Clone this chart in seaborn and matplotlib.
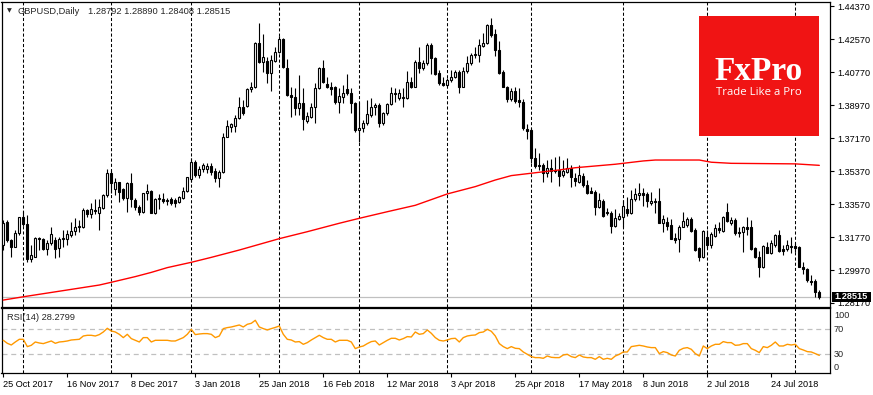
import matplotlib
matplotlib.use('Agg')
import matplotlib.pyplot as plt
from matplotlib.patches import Rectangle
import seaborn as sns
import numpy as np
import pandas as pd

# ---------------- data ----------------
open_ = [
1.3133, 1.3261, 1.3161, 1.3124, 1.3201, 1.3284, 1.3246, 1.3055, 1.3070, 1.3170,
1.3166, 1.3110, 1.3142, 1.3161, 1.3115, 1.3166, 1.3168, 1.3190, 1.3211, 1.3230,
1.3233, 1.3324, 1.3302, 1.3322, 1.3310, 1.3333, 1.3406, 1.3524, 1.3437, 1.3475,
1.3439, 1.3388, 1.3470, 1.3379, 1.3342, 1.3315, 1.3415, 1.3428, 1.3306, 1.3382,
1.3382, 1.3371, 1.3386, 1.3379, 1.3368, 1.3388, 1.3430, 1.3491, 1.3584, 1.3515,
1.3546, 1.3546, 1.3565, 1.3537, 1.3501, 1.3534, 1.3725, 1.3779, 1.3785, 1.3825,
1.3888, 1.3892, 1.3983, 1.3994, 1.4234, 1.4130, 1.4137, 1.4070, 1.4139, 1.4185,
1.4256, 1.4097, 1.3950, 1.3939, 1.3879, 1.3906, 1.3812, 1.3834, 1.3885, 1.3988,
1.4097, 1.4010, 1.3994, 1.3994, 1.3915, 1.3943, 1.3983, 1.3961, 1.3906, 1.3761,
1.3770, 1.3797, 1.3843, 1.3885, 1.3896, 1.3801, 1.3852, 1.3903, 1.3961, 1.3934,
1.3934, 1.3934, 1.4021, 1.3997, 1.4134, 1.4097, 1.4125, 1.4225, 1.4152, 1.4070,
1.4015, 1.4006, 1.4034, 1.4048, 1.4075, 1.3997, 1.4085, 1.4125, 1.4170, 1.4170,
1.4219, 1.4234, 1.4334, 1.4285, 1.4197, 1.4079, 1.3994, 1.3928, 1.3976, 1.3925,
1.3914, 1.3768, 1.3761, 1.3606, 1.3570, 1.3570, 1.3528, 1.3552, 1.3543, 1.3543,
1.3516, 1.3534, 1.3552, 1.3497, 1.3479, 1.3510, 1.3461, 1.3430, 1.3425, 1.3339,
1.3376, 1.3316, 1.3306, 1.3237, 1.3277, 1.3288, 1.3330, 1.3310, 1.3383, 1.3405,
1.3419, 1.3412, 1.3365, 1.3376, 1.3374, 1.3256, 1.3261, 1.3241, 1.3172, 1.3165,
1.3234, 1.3243, 1.3277, 1.3215, 1.3115, 1.3070, 1.3175, 1.3134, 1.3183, 1.3226,
1.3212, 1.3315, 1.3252, 1.3270, 1.3206, 1.3205, 1.3230, 1.3230, 1.3115, 1.3067,
1.3012, 1.3125, 1.3092, 1.3134, 1.3188, 1.3110, 1.3110, 1.3130, 1.3128, 1.3125,
1.3016, 1.3001, 1.2939, 1.2939, 1.28792]

high_ = [
1.3270, 1.3270, 1.3164, 1.3215, 1.3288, 1.3319, 1.3297, 1.3133, 1.3175, 1.3175,
1.3170, 1.3161, 1.3230, 1.3179, 1.3179, 1.3215, 1.3215, 1.3261, 1.3279, 1.3270,
1.3333, 1.3330, 1.3361, 1.3384, 1.3382, 1.3410, 1.3548, 1.3542, 1.3497, 1.3479,
1.3442, 1.3479, 1.3524, 1.3388, 1.3351, 1.3419, 1.3466, 1.3433, 1.3388, 1.3411,
1.3415, 1.3388, 1.3397, 1.3388, 1.3400, 1.3451, 1.3506, 1.3606, 1.3597, 1.3564,
1.3579, 1.3583, 1.3579, 1.3552, 1.3543, 1.3743, 1.3815, 1.3801, 1.3843, 1.3939,
1.3925, 1.3988, 1.4025, 1.4243, 1.4343, 1.4285, 1.4161, 1.4170, 1.4216, 1.4274,
1.4261, 1.4146, 1.3994, 1.3988, 1.4061, 1.3988, 1.3861, 1.3906, 1.4015, 1.4106,
1.4143, 1.4052, 1.4025, 1.4001, 1.3988, 1.4006, 1.4066, 1.3988, 1.3915, 1.3915,
1.3815, 1.3925, 1.3934, 1.3910, 1.3906, 1.3861, 1.3906, 1.3994, 1.3988, 1.3983,
1.3988, 1.4085, 1.4052, 1.4143, 1.4216, 1.4143, 1.4237, 1.4237, 1.4161, 1.4088,
1.4052, 1.4043, 1.4088, 1.4088, 1.4088, 1.4106, 1.4165, 1.4183, 1.4216, 1.4256,
1.4292, 1.4339, 1.4370, 1.4310, 1.4248, 1.4088, 1.4001, 1.3988, 1.3994, 1.3988,
1.3928, 1.3794, 1.3770, 1.3661, 1.3634, 1.3579, 1.3597, 1.3601, 1.3616, 1.3619,
1.3597, 1.3606, 1.3570, 1.3525, 1.3570, 1.3525, 1.3488, 1.3452, 1.3434, 1.3416,
1.3383, 1.3334, 1.3321, 1.3328, 1.3306, 1.3379, 1.3397, 1.3434, 1.3443, 1.3474,
1.3443, 1.3425, 1.3425, 1.3388, 1.3443, 1.3297, 1.3285, 1.3274, 1.3197, 1.3243,
1.3315, 1.3288, 1.3288, 1.3225, 1.3125, 1.3215, 1.3215, 1.3206, 1.3246, 1.3261,
1.3292, 1.3365, 1.3288, 1.3279, 1.3234, 1.3237, 1.3285, 1.3270, 1.3121, 1.3103,
1.3134, 1.3152, 1.3161, 1.3194, 1.3215, 1.3134, 1.3161, 1.3175, 1.3143, 1.3128,
1.3043, 1.3006, 1.2970, 1.2946, 1.28890]

low_ = [
1.3106, 1.3152, 1.3070, 1.3121, 1.3188, 1.3237, 1.3042, 1.3042, 1.3066, 1.3106,
1.3106, 1.3079, 1.3133, 1.3060, 1.3070, 1.3124, 1.3133, 1.3179, 1.3188, 1.3206,
1.3224, 1.3284, 1.3279, 1.3302, 1.3215, 1.3330, 1.3397, 1.3415, 1.3406, 1.3370,
1.3379, 1.3315, 1.3342, 1.3324, 1.3297, 1.3310, 1.3379, 1.3306, 1.3302, 1.3328,
1.3361, 1.3351, 1.3351, 1.3342, 1.3361, 1.3382, 1.3424, 1.3479, 1.3506, 1.3497,
1.3533, 1.3525, 1.3516, 1.3479, 1.3452, 1.3528, 1.3721, 1.3752, 1.3752, 1.3819,
1.3843, 1.3888, 1.3970, 1.3988, 1.4125, 1.4079, 1.4019, 1.3976, 1.4134, 1.4179,
1.4097, 1.3946, 1.3834, 1.3843, 1.3843, 1.3761, 1.3797, 1.3825, 1.3797, 1.3983,
1.4019, 1.3988, 1.3952, 1.3903, 1.3855, 1.3906, 1.3952, 1.3852, 1.3752, 1.3697,
1.3752, 1.3788, 1.3834, 1.3843, 1.3779, 1.3788, 1.3843, 1.3897, 1.3915, 1.3925,
1.3885, 1.3928, 1.3988, 1.3994, 1.4070, 1.4088, 1.4115, 1.4066, 1.4061, 1.4006,
1.4001, 1.4001, 1.4025, 1.4043, 1.3961, 1.3994, 1.4074, 1.4115, 1.4152, 1.4134,
1.4216, 1.4230, 1.4270, 1.4165, 1.4066, 1.3994, 1.3915, 1.3921, 1.3910, 1.3888,
1.3761, 1.3710, 1.3583, 1.3552, 1.3543, 1.3479, 1.3506, 1.3479, 1.3525, 1.3456,
1.3506, 1.3525, 1.3448, 1.3456, 1.3474, 1.3452, 1.3412, 1.3416, 1.3297, 1.3334,
1.3288, 1.3297, 1.3201, 1.3234, 1.3270, 1.3234, 1.3292, 1.3303, 1.3376, 1.3379,
1.3346, 1.3339, 1.3352, 1.3306, 1.3252, 1.3206, 1.3215, 1.3165, 1.3143, 1.3097,
1.3230, 1.3234, 1.3206, 1.3103, 1.3048, 1.3065, 1.3115, 1.3115, 1.3175, 1.3201,
1.3206, 1.3261, 1.3243, 1.3188, 1.3179, 1.3097, 1.3188, 1.3106, 1.3061, 1.2957,
1.3006, 1.3088, 1.3085, 1.3125, 1.3097, 1.3079, 1.3103, 1.3088, 1.3097, 1.3012,
1.2976, 1.2934, 1.2915, 1.2852, 1.28408]

close_ = [
1.3255, 1.3161, 1.3124, 1.3201, 1.3284, 1.3248, 1.3055, 1.3079, 1.3170, 1.3164,
1.3111, 1.3142, 1.3191, 1.3113, 1.3166, 1.3171, 1.3191, 1.3210, 1.3230, 1.3237,
1.3324, 1.3302, 1.3330, 1.3317, 1.3339, 1.3406, 1.3524, 1.3470, 1.3475, 1.3424,
1.3388, 1.3470, 1.3384, 1.3342, 1.3315, 1.3415, 1.3428, 1.3310, 1.3382, 1.3388,
1.3371, 1.3380, 1.3361, 1.3364, 1.3393, 1.3430, 1.3502, 1.3584, 1.3515, 1.3546,
1.3570, 1.3565, 1.3534, 1.3501, 1.3534, 1.3721, 1.3785, 1.3794, 1.3825, 1.3888,
1.3852, 1.3983, 1.3994, 1.4234, 1.4130, 1.4157, 1.4070, 1.4143, 1.4185, 1.4256,
1.4106, 1.3952, 1.3939, 1.3879, 1.3906, 1.3819, 1.3837, 1.3885, 1.3988, 1.4097,
1.4025, 1.3994, 1.3983, 1.3915, 1.3946, 1.3961, 1.3961, 1.3906, 1.3761, 1.3774,
1.3797, 1.3848, 1.3885, 1.3896, 1.3801, 1.3852, 1.3903, 1.3961, 1.3955, 1.3961,
1.3943, 1.4021, 1.3997, 1.4134, 1.4097, 1.4125, 1.4225, 1.4152, 1.4066, 1.4015,
1.4006, 1.4034, 1.4048, 1.4075, 1.3997, 1.4085, 1.4125, 1.4170, 1.4174, 1.4225,
1.4234, 1.4334, 1.4279, 1.4197, 1.4074, 1.3997, 1.3928, 1.3976, 1.3921, 1.3914,
1.3774, 1.3757, 1.3606, 1.3565, 1.3565, 1.3528, 1.3552, 1.3539, 1.3537, 1.3510,
1.3539, 1.3552, 1.3503, 1.3485, 1.3516, 1.3461, 1.3416, 1.3419, 1.3343, 1.3379,
1.3292, 1.3306, 1.3237, 1.3279, 1.3292, 1.3346, 1.3310, 1.3385, 1.3410, 1.3419,
1.3405, 1.3376, 1.3376, 1.3368, 1.3256, 1.3274, 1.3239, 1.3168, 1.3161, 1.3230,
1.3266, 1.3277, 1.3212, 1.3106, 1.3070, 1.3212, 1.3134, 1.3194, 1.3225, 1.3215,
1.3285, 1.3266, 1.3270, 1.3201, 1.3201, 1.3234, 1.3223, 1.3110, 1.3067, 1.3012,
1.3128, 1.3092, 1.3143, 1.3188, 1.3103, 1.3103, 1.3132, 1.3125, 1.3115, 1.3016,
1.3001, 1.2943, 1.2932, 1.2879, 1.28515]

# moving average (red line), read at selected bars
ma_bar = [0, 5, 16, 24, 27, 33, 37, 41, 47, 52, 59, 69, 76, 84, 89, 96, 103, 111,
          118, 123, 127, 132, 139, 143, 153, 160, 163, 174, 177, 182, 198, 204]
ma_val = [1.2833, 1.2851, 1.2888, 1.2915, 1.2930, 1.2961, 1.2984, 1.3010, 1.3039,
          1.3066, 1.3106, 1.3168, 1.3206, 1.3252, 1.3279, 1.3315, 1.3350, 1.3412,
          1.3452, 1.3488, 1.3512, 1.3525, 1.3543, 1.3555, 1.3574, 1.3592, 1.3597,
          1.3597, 1.3585, 1.3579, 1.3576, 1.3568]

rsi = [
52.4, 47.6, 44.9, 49.7, 54.0, 54.0, 42.3, 44.4, 49.7, 48.1,
47.1, 49.2, 51.3, 47.6, 49.7, 50.3, 51.3, 52.9, 53.5, 54.0,
59.3, 60.4, 60.4, 59.3, 61.5, 65.7, 71.6, 67.3, 65.7, 62.0,
56.7, 62.0, 55.1, 52.4, 49.7, 56.7, 56.7, 49.7, 52.4, 52.4,
52.4, 52.4, 51.3, 51.3, 54.0, 56.7, 62.0, 70.0, 61.5, 62.5,
63.1, 63.1, 62.0, 56.7, 59.3, 71.1, 72.7, 73.7, 75.3, 76.9,
73.7, 78.0, 79.6, 84.4, 73.7, 71.1, 68.9, 71.1, 73.0, 75.3,
62.0, 54.0, 52.9, 49.7, 50.3, 46.0, 48.7, 52.9, 56.7, 60.4,
56.7, 54.0, 54.0, 49.7, 52.4, 52.4, 52.4, 49.7, 39.1, 41.7,
43.3, 47.1, 50.3, 51.3, 44.9, 48.7, 52.4, 55.6, 55.6, 52.9,
55.1, 58.3, 57.7, 65.7, 62.0, 63.1, 68.9, 63.6, 56.7, 52.4,
51.3, 52.9, 55.1, 55.6, 49.7, 56.7, 59.3, 60.4, 60.9, 64.7,
65.7, 70.0, 66.8, 59.3, 47.1, 42.3, 39.1, 42.3, 39.6, 39.1,
33.7, 30.0, 26.3, 24.7, 24.7, 23.6, 27.3, 25.2, 24.7, 24.7,
28.9, 30.0, 26.3, 24.7, 28.9, 25.7, 24.7, 24.7, 22.0, 26.3,
22.0, 23.6, 22.0, 27.3, 30.0, 33.7, 33.7, 42.3, 43.3, 44.4,
43.3, 41.7, 40.7, 40.7, 31.1, 34.3, 32.7, 28.9, 27.3, 36.4,
39.6, 40.7, 38.0, 31.1, 27.3, 43.3, 39.1, 43.3, 46.0, 46.0,
50.3, 48.7, 48.7, 44.4, 44.9, 47.1, 47.1, 39.1, 36.4, 32.7,
42.3, 40.7, 44.4, 49.7, 43.3, 43.3, 46.0, 44.9, 46.0, 39.1,
36.9, 34.3, 33.7, 31.1, 28.3]

month_start_bar = [5, 27, 47, 69, 89, 111, 132, 155, 176, 198]
date_bar = [0, 16, 32, 48, 64, 80, 96, 112, 128, 144, 160, 176, 192]
date_lbl = ['25 Oct 2017', '16 Nov 2017', '8 Dec 2017', '3 Jan 2018', '25 Jan 2018',
            '16 Feb 2018', '12 Mar 2018', '3 Apr 2018', '25 Apr 2018', '17 May 2018',
            '8 Jun 2018', '2 Jul 2018', '24 Jul 2018']
price_ticks = [1.28170, 1.29970, 1.31770, 1.33570, 1.35370, 1.37170, 1.38970,
               1.40770, 1.42570, 1.44370]
rsi_levels = [70, 30]
last_price = 1.28515

# ---------------- figure ----------------
sns.set_style('white')
plt.rcParams['font.family'] = ['Liberation Sans', 'DejaVu Sans']
FS = 6.6

W, H = 873, 395
fig = plt.figure(figsize=(W / 100, H / 100), dpi=100)

def rect(x0, y0, x1, y1):
    return [x0 / W, 1 - y1 / H, (x1 - x0) / W, (y1 - y0) / H]

ax = fig.add_axes(rect(1.5, 2, 829.5, 306.5))
axr = fig.add_axes(rect(1.5, 308.3, 829.5, 373.3))

df = pd.DataFrame({'o': open_, 'h': high_, 'l': low_, 'c': close_})
df['i'] = np.arange(len(df))
up = df['c'] >= df['o']
bot = np.minimum(df['o'], df['c'])
hgt = (df['c'] - df['o']).abs()

ax.axhline(last_price, color='#c0c0c0', lw=0.9, zorder=0.5)
for b in month_start_bar:
    for a in (ax, axr):
        a.axvline(b, color='black', lw=0.75, ls=(0, (3, 2)), zorder=1)

ax.vlines(df['i'], df['l'], df['h'], color='black', lw=0.8, zorder=2)
ax.bar(df['i'][up], hgt[up], bottom=bot[up], width=0.5, facecolor='white',
       edgecolor='black', lw=0.8, zorder=3)
ax.bar(df['i'][~up], hgt[~up], bottom=bot[~up], width=0.5, facecolor='black',
       edgecolor='black', lw=0.8, zorder=3)

sns.lineplot(x=ma_bar, y=ma_val, ax=ax, color='#ff0000', lw=1.0, zorder=4,
             estimator=None, legend=False)

ax.set_xlim(-0.45, 206.55)
ax.set_ylim(1.27979, 1.44591)
ax.set_xticks([])
ax.yaxis.tick_right()
ax.set_yticks(price_ticks)
ax.set_yticklabels([f'{v:.5f}' for v in price_ticks])
ax.tick_params(axis='y', right=True, left=False, length=3, width=0.8, pad=2.5,
               labelsize=FS, colors='black')
ax.set_xlabel('')
ax.set_ylabel('')

# RSI panel
for lv in rsi_levels:
    axr.axhline(lv, color='#c0c0c0', lw=0.9, ls=(0, (4, 3)), zorder=0.5)
sns.lineplot(x=np.arange(len(rsi)), y=rsi, ax=axr, color='#ff9900', lw=1.0,
             zorder=4, estimator=None, legend=False)
axr.set_xlim(-0.45, 206.55)
axr.set_ylim(-0.4, 103.6)
axr.set_yticks([])
axr.set_xticks(date_bar)
axr.set_xticklabels(date_lbl, ha='left')
axr.tick_params(axis='x', bottom=True, length=3, width=0.8, pad=1.5,
                labelsize=FS, colors='black', direction='out')
axr.set_xlabel('')
axr.set_ylabel('')

for a in (ax, axr):
    for s in a.spines.values():
        s.set_color('black')
        s.set_linewidth(0.9)

for txt, yp in [('100', 315.7), ('70', 329.3), ('30', 354.3), ('0', 367.3)]:
    fig.text(834 / W, 1 - yp / H, txt, fontsize=FS, va='center', ha='left')

# header texts
fig.text(6.5 / W, 1 - 11 / H, '\u25BC', fontsize=4.5, va='center', ha='left',
         family=['DejaVu Sans'])
fig.text(18 / W, 1 - 11 / H, 'GBPUSD,Daily', fontsize=6.7, va='center', ha='left')
fig.text(88 / W, 1 - 11 / H, '1.28792 1.28890 1.28408 1.28515', fontsize=6.7,
         va='center', ha='left')
fig.text(7 / W, 1 - 317.5 / H, 'RSI(14) 28.2799', fontsize=6.7, va='center', ha='left')

# current price box
fig.add_artist(Rectangle((831.7 / W, 1 - 301.7 / H), (870.5 - 831.7) / W, 10 / H,
                         transform=fig.transFigure, facecolor='black',
                         edgecolor='none', zorder=5))
fig.text(834 / W, 1 - 296.9 / H, f'{last_price:.5f}', fontsize=FS, color='white',
         va='center', ha='left', fontweight='bold', zorder=6)

# FxPro logo
fig.add_artist(Rectangle((699 / W, 1 - 136 / H), 120 / W, 120 / H,
                         transform=fig.transFigure, facecolor='#f01414',
                         edgecolor='none', zorder=5))
fig.text(759 / W, 1 - 80 / H, 'FxPro', fontsize=24, color='white', ha='center',
         va='baseline', family=['Liberation Serif', 'DejaVu Serif'],
         fontweight='bold', zorder=6)
fig.text(759 / W, 1 - 95 / H, 'Trade Like a Pro', fontsize=8.2, color='white',
         ha='center', va='baseline', family=['Open Sans', 'DejaVu Sans'], zorder=6)

fig.savefig('out.png', dpi=100, facecolor='white')
